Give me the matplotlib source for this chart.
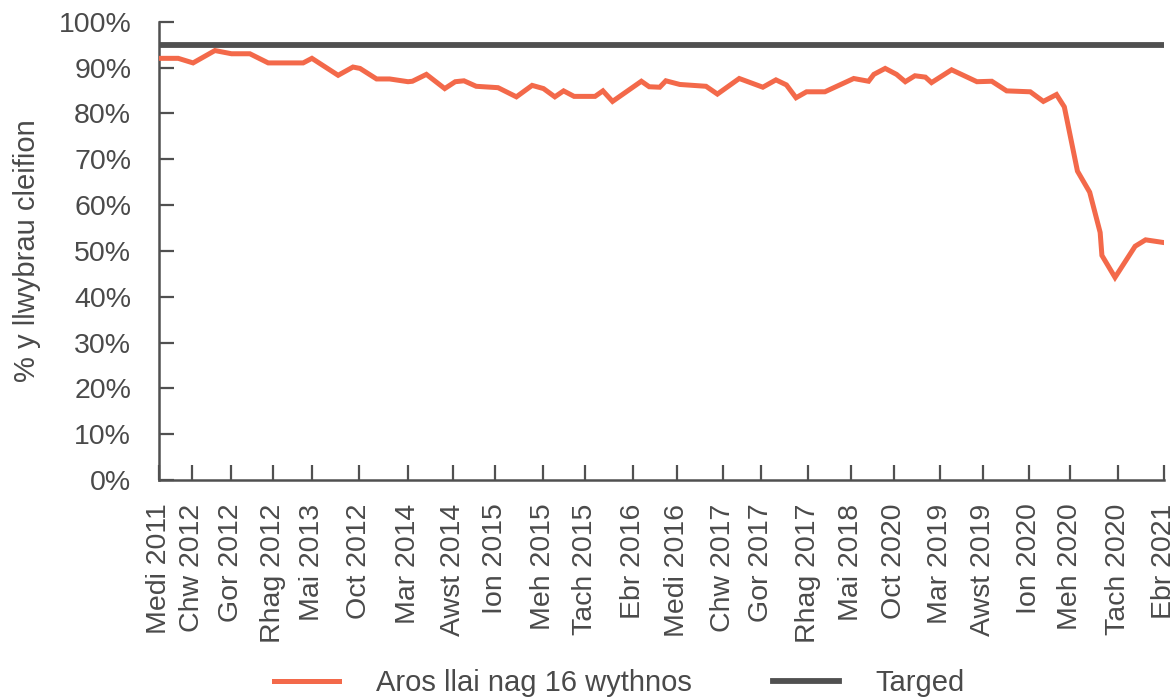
import matplotlib
matplotlib.use("Agg")
import matplotlib.pyplot as plt
from matplotlib.ticker import FuncFormatter

# ---- data (x in months since Medi 2011) ----
months = [0.1, 2.2, 3.9, 6.4, 8.3, 10.4, 12.5, 16.5, 17.5, 20.5,
          22.2, 23.0, 24.9, 26.4, 28.5, 29.0, 30.6, 32.7, 33.9, 34.9,
          36.3, 38.8, 40.9, 42.7, 44.0, 45.3, 46.3, 47.5, 49.9, 50.8,
          51.9, 55.2, 56.1, 57.3, 58.0, 59.6, 62.6, 63.9, 66.4, 69.1,
          70.6, 71.8, 72.9, 74.1, 76.2, 79.5, 81.2, 81.8, 83.1, 84.4,
          85.4, 86.5, 87.7, 88.4, 90.7, 93.6, 95.3, 97.0, 99.7, 101.2,
          102.7, 103.6, 105.1, 106.5, 107.7, 107.9, 109.4, 111.7, 112.9, 115.0]
waiting_under_16 = [92.0, 92.0, 91.0, 93.7, 93.0, 93.0, 91.0, 91.0, 92.0, 88.3,
                    90.1, 89.8, 87.5, 87.5, 86.9, 87.0, 88.5, 85.4, 86.9, 87.1,
                    85.9, 85.6, 83.6, 86.1, 85.4, 83.6, 84.9, 83.7, 83.7, 84.9,
                    82.6, 87.0, 85.8, 85.7, 87.1, 86.3, 85.9, 84.2, 87.6, 85.7,
                    87.3, 86.2, 83.4, 84.7, 84.7, 87.6, 87.0, 88.5, 89.8, 88.5,
                    86.9, 88.2, 87.9, 86.7, 89.5, 86.9, 87.0, 84.9, 84.7, 82.6,
                    84.1, 81.4, 67.4, 62.8, 54.0, 49.0, 44.2, 51.0, 52.4, 51.8]
target = 95.0

tick_labels = ["Medi 2011", "Chw 2012", "Gor 2012", "Rhag 2012", "Mai 2013",
               "Oct 2012", "Mar 2014", "Awst 2014", "Ion 2015", "Meh 2015",
               "Tach 2015", "Ebr 2016", "Medi 2016", "Chw 2017", "Gor 2017",
               "Rhag 2017", "Mai 2018", "Oct 2020", "Mar 2019", "Awst 2019",
               "Ion 2020", "Meh 2020", "Tach 2020", "Ebr 2021"]
tick_months = [0.0, 3.74, 8.20, 13.08, 17.47, 22.92, 28.46, 33.67, 38.45, 43.97,
               48.78, 54.20, 59.24, 64.57, 68.89, 74.30, 79.19, 84.11, 89.37, 94.25,
               99.55, 104.28, 109.70, 115.0]

series_label = "Aros llai nag 16 wythnos"
target_label = "Targed"
y_title = "% y llwybrau cleifion"

# ---- style ----
ORANGE = "#F3694A"
DARK = "#505050"
TEXT = "#4a4a4a"
plt.rcParams['font.family'] = ['Liberation Sans', 'DejaVu Sans']

fig = plt.figure(figsize=(11.75, 6.99), dpi=100)
ax = fig.add_axes([0.1353, 0.3133, 0.8553, 0.6557])

ax.plot(months, waiting_under_16, color=ORANGE, lw=3.6, label=series_label,
        solid_joinstyle='miter', zorder=3)
ax.axhline(target, color=DARK, lw=4.2, label=target_label, zorder=2)

ax.set_xlim(0, 115)
ax.set_ylim(0, 100)
ax.set_yticks(range(0, 101, 10))
ax.yaxis.set_major_formatter(FuncFormatter(lambda v, p: f"{int(v)}%"))
ax.set_xticks(tick_months)
ax.set_xticklabels(tick_labels, rotation=90)

for s in ['top', 'right']:
    ax.spines[s].set_visible(False)
for s in ['left', 'bottom']:
    ax.spines[s].set_color(DARK)
    ax.spines[s].set_linewidth(1.8)

ax.tick_params(axis='both', direction='in', length=11, width=1.6, color=DARK,
               labelsize=20.5, labelcolor=TEXT)
ax.tick_params(axis='y', pad=20)
ax.tick_params(axis='x', pad=17)

ax.set_ylabel(y_title, fontsize=21, color=TEXT)
ax.yaxis.set_label_coords(-0.117, 0.5)

leg = fig.legend(loc='center', bbox_to_anchor=(0.527, 0.023), ncol=2, frameon=False,
                 fontsize=21, handlelength=2.25, handletextpad=1.25, columnspacing=2.8)
for t in leg.get_texts():
    t.set_color(TEXT)

fig.savefig("out.png", dpi=100)
